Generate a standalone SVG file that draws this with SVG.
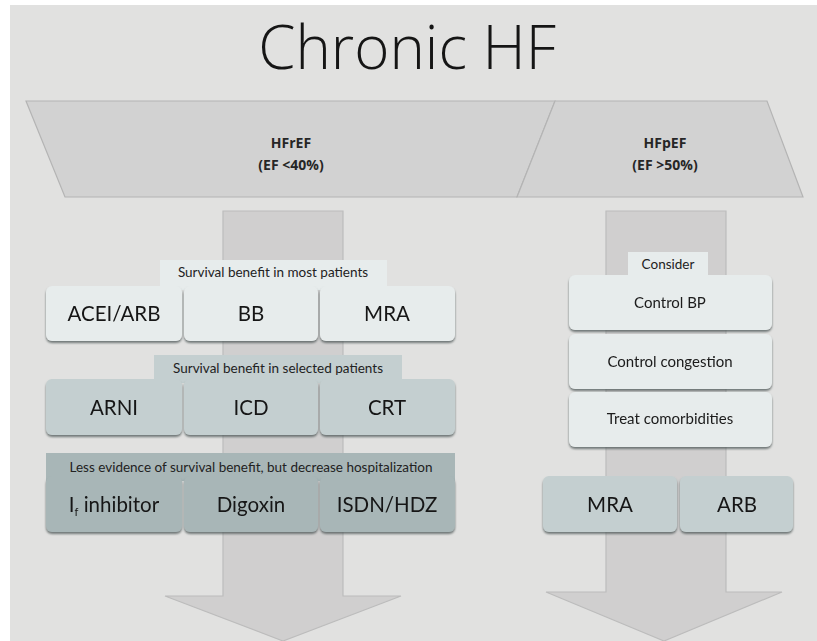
<svg xmlns="http://www.w3.org/2000/svg" width="817" height="641" viewBox="0 0 817 641">
  <defs>
    <style>
      .title { font-family: "Open Sans", "Liberation Sans", sans-serif; font-weight: 300; font-size: 60px; fill: #151515; }
      .head { font-family: "Open Sans", "Liberation Sans", sans-serif; font-weight: 700; font-size: 14px; fill: #262626; }
      .tabtxt { font-family: "Lato", "Liberation Sans", sans-serif; font-size: 13.5px; fill: #222; }
      .lbl { font-family: "Lato", "Liberation Sans", sans-serif; font-size: 20.5px; fill: #161616; }
      .lbl-s { font-family: "Lato", "Liberation Sans", sans-serif; font-size: 15px; fill: #1a1a1a; }
      .band { fill: #d2d2d2; stroke: #b4b4b4; stroke-width: 1.2; }
      .arrow { fill: #d0cfcf; stroke: #bcbcbc; stroke-width: 1.2; }
      .light { fill: #e7ecec; }
      .mid { fill: #c4cfd0; }
      .dark { fill: #a8b6b7; }
      .box { filter: url(#sh); }
    </style>
    <filter id="sh" x="-10%" y="-10%" width="120%" height="130%">
      <feDropShadow dx="0" dy="2" stdDeviation="1" flood-color="#4a5555" flood-opacity="0.75"/>
    </filter>
  </defs>

  <!-- page background -->
  <rect x="0" y="0" width="817" height="641" fill="#ffffff"/>
  <rect x="10" y="5" width="807" height="636" fill="#e1e1e0"/>

  <!-- title -->
  <text class="title" x="407" y="69" text-anchor="middle">Chronic HF</text>

  <!-- category banner -->
  <g id="hfref">
    <polygon class="band" points="26,101 555,101 517,197 65,197"/>
    <text class="head" x="291" y="148" text-anchor="middle">HFrEF</text>
    <text class="head" x="291" y="170" text-anchor="middle">(EF &lt;40%)</text>
  </g>
  <g id="hfpef">
    <polygon class="band" points="555,101 767,101 803,197 517,197"/>
    <text class="head" x="665" y="148" text-anchor="middle">HFpEF</text>
    <text class="head" x="665" y="170" text-anchor="middle">(EF &gt;50%)</text>
  </g>

  <!-- block arrows running down each column -->
  <g id="connectors">
    <polygon class="arrow" points="223,211 343,211 343,596 401,596 283,641 165,596 223,596"/>
    <polygon class="arrow" points="606,211 726,211 726,592 782,592 664,641 546,592 606,592"/>
  </g>

  <!-- HFrEF: survival benefit in most patients -->
  <g id="tier1">
    <rect class="light" x="160" y="260" width="227" height="30"/>
    <text class="tabtxt" x="273" y="277" text-anchor="middle">Survival benefit in most patients</text>
  </g>
  <g id="acei-arb" class="box">
    <rect class="light" x="46" y="286" width="136" height="55" rx="6"/>
    <text class="lbl" x="114" y="321" text-anchor="middle">ACEI/ARB</text>
  </g>
  <g id="bb" class="box">
    <rect class="light" x="184" y="286" width="134" height="55" rx="6"/>
    <text class="lbl" x="251" y="321" text-anchor="middle">BB</text>
  </g>
  <g id="mra-1" class="box">
    <rect class="light" x="320" y="286" width="135" height="55" rx="6"/>
    <text class="lbl" x="387" y="321" text-anchor="middle">MRA</text>
  </g>

  <!-- HFrEF: survival benefit in selected patients -->
  <g id="tier2">
    <rect class="mid" x="154" y="355" width="248" height="28"/>
    <text class="tabtxt" x="278" y="373" text-anchor="middle">Survival benefit in selected patients</text>
  </g>
  <g id="arni" class="box">
    <rect class="mid" x="46" y="379" width="136" height="56" rx="6"/>
    <text class="lbl" x="114" y="415" text-anchor="middle">ARNI</text>
  </g>
  <g id="icd" class="box">
    <rect class="mid" x="184" y="379" width="134" height="56" rx="6"/>
    <text class="lbl" x="251" y="415" text-anchor="middle">ICD</text>
  </g>
  <g id="crt" class="box">
    <rect class="mid" x="320" y="379" width="135" height="56" rx="6"/>
    <text class="lbl" x="387" y="415" text-anchor="middle">CRT</text>
  </g>

  <!-- HFrEF: fewer hospitalizations -->
  <g id="tier3">
    <rect class="dark" x="46" y="453" width="409" height="28"/>
    <text class="tabtxt" x="251" y="472" text-anchor="middle">Less evidence of survival benefit, but decrease hospitalization</text>
  </g>
  <g id="if-inhibitor" class="box">
    <rect class="dark" x="46" y="476" width="136" height="56" rx="6"/>
    <text class="lbl" x="114" y="512" text-anchor="middle">I<tspan font-size="11" dy="4">f</tspan><tspan dy="-4"> inhibitor</tspan></text>
  </g>
  <g id="digoxin" class="box">
    <rect class="dark" x="184" y="476" width="134" height="56" rx="6"/>
    <text class="lbl" x="251" y="512" text-anchor="middle">Digoxin</text>
  </g>
  <g id="isdn-hdz" class="box">
    <rect class="dark" x="320" y="476" width="135" height="56" rx="6"/>
    <text class="lbl" x="387" y="512" text-anchor="middle">ISDN/HDZ</text>
  </g>

  <!-- HFpEF: measures to consider -->
  <g id="consider">
    <rect class="light" x="628" y="252" width="80" height="28"/>
    <text class="tabtxt" x="668" y="269" text-anchor="middle">Consider</text>
  </g>
  <g id="control-bp" class="box">
    <rect class="light" x="569" y="275" width="203" height="55" rx="6"/>
    <text class="lbl-s" x="670" y="308" text-anchor="middle">Control BP</text>
  </g>
  <g id="control-congestion" class="box">
    <rect class="light" x="569" y="334" width="203" height="55" rx="6"/>
    <text class="lbl-s" x="670" y="367" text-anchor="middle">Control congestion</text>
  </g>
  <g id="treat-comorbidities" class="box">
    <rect class="light" x="569" y="392" width="203" height="55" rx="6"/>
    <text class="lbl-s" x="670" y="424" text-anchor="middle">Treat comorbidities</text>
  </g>

  <!-- HFpEF: drugs -->
  <g id="mra-2" class="box">
    <rect class="mid" x="543" y="476" width="134" height="56" rx="6"/>
    <text class="lbl" x="610" y="512" text-anchor="middle">MRA</text>
  </g>
  <g id="arb" class="box">
    <rect class="mid" x="680" y="476" width="113" height="56" rx="6"/>
    <text class="lbl" x="737" y="512" text-anchor="middle">ARB</text>
  </g>
</svg>
